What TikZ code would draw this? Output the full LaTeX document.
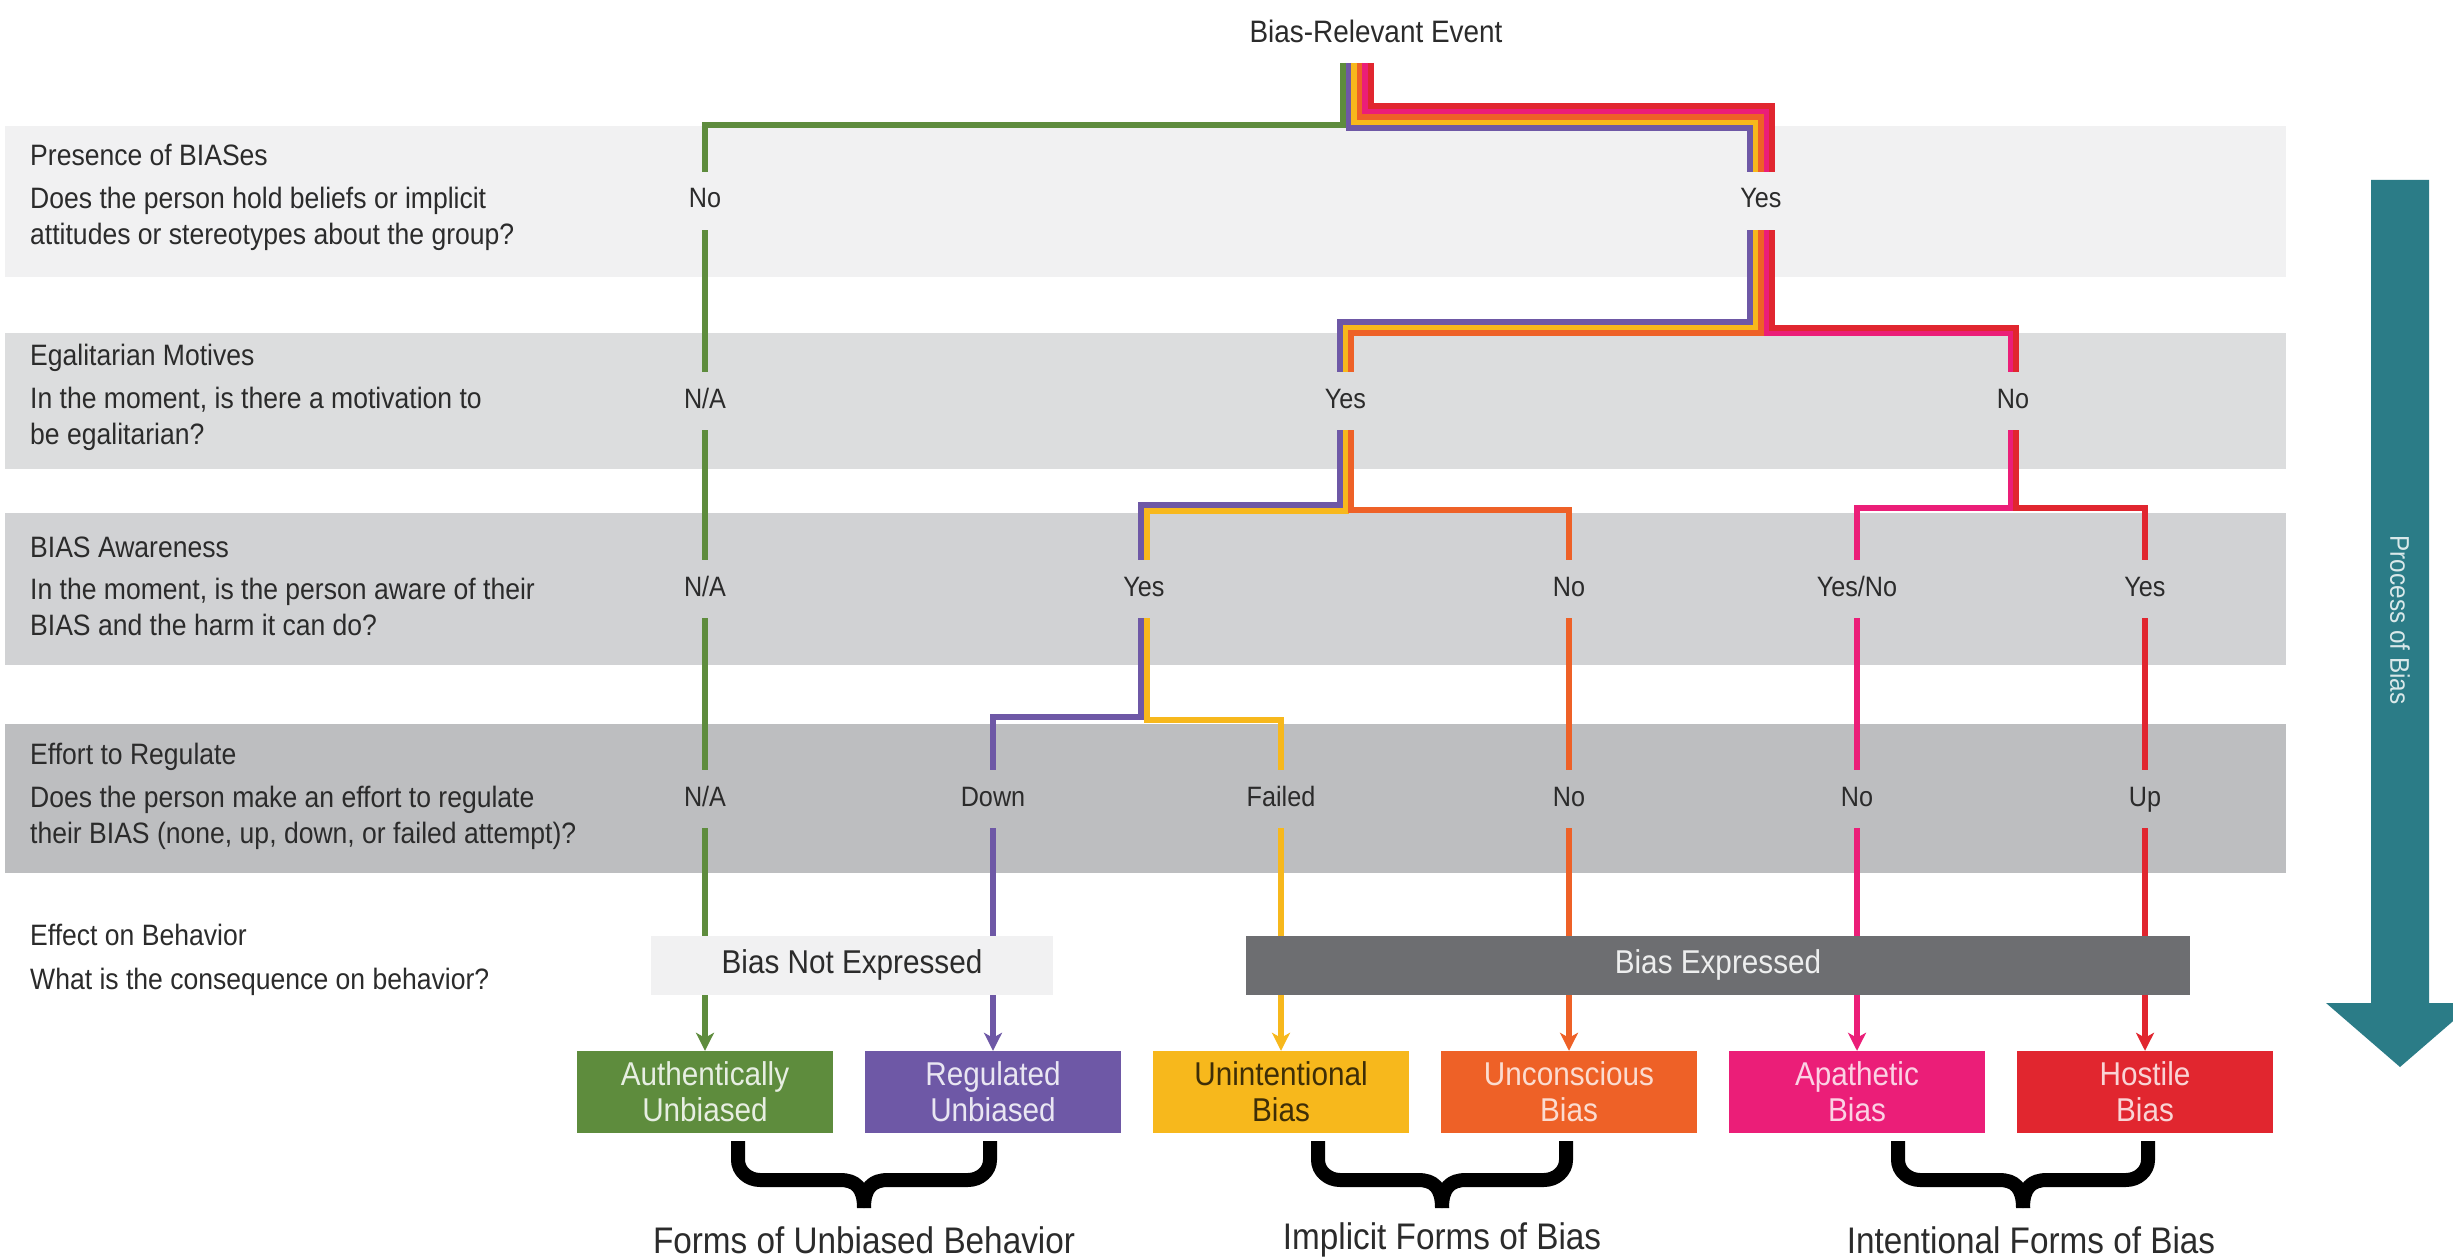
\documentclass[tikz,border=0pt]{standalone}
\usepackage{fontspec}
\setmainfont{Liberation Sans}[FakeStretch=0.9]
\usetikzlibrary{arrows.meta,calc}

\definecolor{cGreen}{HTML}{5E8C3D}
\definecolor{cPurple}{HTML}{6E58A6}
\definecolor{cYellow}{HTML}{F7B81C}
\definecolor{cOrange}{HTML}{EE6127}
\definecolor{cPink}{HTML}{EB1E78}
\definecolor{cRed}{HTML}{E1262F}
\definecolor{bandA}{HTML}{F1F1F2}
\definecolor{bandB}{HTML}{DCDDDE}
\definecolor{bandC}{HTML}{D1D2D4}
\definecolor{bandD}{HTML}{BDBEC0}
\definecolor{ink}{HTML}{2B2B2B}
\definecolor{expGray}{HTML}{6D6E71}
\definecolor{procTeal}{HTML}{2B7C87}

\newcommand\rowfont{\fontsize{29.5}{36}\selectfont}
\newcommand\ansfont{\fontsize{28}{32}\selectfont}
\newcommand\boxfont{\fontsize{33}{36}\selectfont}
\newcommand\capfont{\fontsize{37}{42}\selectfont}

\tikzset{
  rowtext/.style={anchor=west, inner sep=0pt, text=ink, font=\rowfont, align=left},
  ans/.style={text=ink, font=\ansfont, text height=20pt, text depth=6pt,
    minimum height=58pt, inner xsep=5pt, inner ysep=0pt},
  flow/.style={line width=6pt, line cap=butt, line join=miter},
  tipped/.style={-{Stealth[length=18pt,width=18pt,inset=5pt]}},
  outcome/.style={minimum width=256pt, minimum height=82pt, inner sep=0pt, align=center, font=\boxfont},
  effect/.style={minimum height=59pt, inner sep=0pt, font=\boxfont, text height=23pt, text depth=7pt},
  brace/.style={line width=14pt, line cap=butt, line join=round, black},
}

% one curly brace under a pair of outcome boxes: left end, tip, right end
\newcommand\curlybrace[3]{%
  \draw[brace] (#1,1141) -- (#1,1160) .. controls (#1,1171) and (#1+10,1180) .. (#1+22,1180)
    -- (#2-24,1180) .. controls (#2-8,1180) and (#2,1188) .. (#2,1208);
  \draw[brace] (#3,1141) -- (#3,1160) .. controls (#3,1171) and (#3-10,1180) .. (#3-22,1180)
    -- (#2+24,1180) .. controls (#2+8,1180) and (#2,1188) .. (#2,1208);}

\begin{document}
\begin{tikzpicture}[x=1pt,y=-1pt]
\useasboundingbox (0,0) rectangle (2453,1260);
\clip (0,0) rectangle (2453,1260);
\fill[white] (0,0) rectangle (2453,1260);

% question bands
\fill[bandA] (5,126) rectangle (2286,277);
\fill[bandB] (5,333) rectangle (2286,469);
\fill[bandC] (5,513) rectangle (2286,665);
\fill[bandD] (5,724) rectangle (2286,873);

% question texts
\node[rowtext] (t1) at (30,155) {Presence of BIASes};
\node[rowtext] (q1) at (30,219) {Does the person hold beliefs or implicit\\attitudes or stereotypes about the group?};
\node[rowtext] (t2) at (30,358) {Egalitarian Motives};
\node[rowtext] (q2) at (30,419) {In the moment, is there a motivation to\\be egalitarian?};
\node[rowtext] (t3) at (30,547) {BIAS Awareness};
\node[rowtext] (q3) at (30,607) {In the moment, is the person aware of their\\BIAS and the harm it can do?};
\node[rowtext] (t4) at (30,757) {Effort to Regulate};
\node[rowtext] (q4) at (30,818) {Does the person make an effort to regulate\\their BIAS (none, up, down, or failed attempt)?};
\node[rowtext] (t5) at (30,935) {Effect on Behavior};
\node[rowtext] (q5) at (30,982) {What is the consequence on behavior?};

% start event
\node[text=ink, font=\fontsize{31}{36}\selectfont, inner sep=0pt] (evt) at (1376,31) {Bias-Relevant Event};
\coordinate (src) at (1357,63);

% outcome boxes
\node[outcome, fill=cGreen,  text=white!85!cGreen]   (bAuth) at (705,1092)  {Authentically\\Unbiased};
\node[outcome, fill=cPurple, text=white!85!cPurple]  (bReg)  at (993,1092)  {Regulated\\Unbiased};
\node[outcome, fill=cYellow, text=black!75!cYellow]  (bUni)  at (1281,1092) {Unintentional\\Bias};
\node[outcome, fill=cOrange, text=white!78!cOrange]  (bUnc)  at (1569,1092) {Unconscious\\Bias};
\node[outcome, fill=cPink,   text=white!80!cPink]    (bApa)  at (1857,1092) {Apathetic\\Bias};
\node[outcome, fill=cRed,    text=white!80!cRed]     (bHos)  at (2145,1092) {Hostile\\Bias};

% decision paths, one per outcome, running side by side in bundles
\draw[flow, tipped, cGreen]  ([xshift=-14pt]src) |- (705,125) -- (bAuth.north);
\draw[flow, tipped, cPurple] ([xshift=-8.5pt]src) |- (1750,128) |- (1340,322) |- (1141,505) |- (993,717) -- (bReg.north);
\draw[flow, tipped, cYellow] ([xshift=-3pt]src) |- (1755.5,122.5) |- (1345.5,327.5) |- (1146.5,510.5) |- (1281,720) -- (bUni.north);
\draw[flow, tipped, cOrange] ([xshift=2.5pt]src) |- (1761,117) |- (1351,333) |- (1569,510) -- (bUnc.north);
\draw[flow, tipped, cPink]   ([xshift=8pt]src) |- (1766.5,111.5) |- (2010.5,333) |- (1857,508) -- (bApa.north);
\draw[flow, tipped, cRed]    ([xshift=13.5pt]src) |- (1772,106) |- (2016,327.5) |- (2145,508) -- (bHos.north);

% answers on the paths
\node[ans, fill=bandA] (a1n) at (705,201) {No};
\node[ans, fill=bandA] (a1y) at (1761,201) {Yes};
\node[ans, fill=bandB] (a2a) at (705,401) {N/A};
\node[ans, fill=bandB] (a2y) at (1345.5,401) {Yes};
\node[ans, fill=bandB] (a2n) at (2013,401) {No};
\node[ans, fill=bandC] (a3a) at (705,589) {N/A};
\node[ans, fill=bandC] (a3y) at (1144,589) {Yes};
\node[ans, fill=bandC] (a3n) at (1569,589) {No};
\node[ans, fill=bandC] (a3b) at (1857,589) {Yes/No};
\node[ans, fill=bandC] (a3h) at (2145,589) {Yes};
\node[ans, fill=bandD] (a4a) at (705,799) {N/A};
\node[ans, fill=bandD] (a4d) at (993,799) {Down};
\node[ans, fill=bandD] (a4f) at (1281,799) {Failed};
\node[ans, fill=bandD] (a4n) at (1569,799) {No};
\node[ans, fill=bandD] (a4m) at (1857,799) {No};
\node[ans, fill=bandD] (a4u) at (2145,799) {Up};

% effect on behavior
\node[effect, fill=bandA, text=ink, minimum width=402pt] (notexp) at (852,965) {Bias Not Expressed};
\node[effect, fill=expGray, text=white!88!expGray, minimum width=944pt] (exp) at (1718,965) {Bias Expressed};

% grouping braces and their captions
\curlybrace{738}{864}{990}
\curlybrace{1318}{1442}{1566}
\curlybrace{1898}{2023}{2148}
\node[text=ink, font=\capfont, inner sep=0pt] (g1) at (864,1240) {Forms of Unbiased Behavior};
\node[text=ink, font=\capfont, inner sep=0pt] (g2) at (1442,1240) {Implicit Forms of Bias};
\node[text=ink, font=\capfont, inner sep=0pt] (g3) at (2031,1240) {Intentional Forms of Bias};

% process arrow
\fill[procTeal] (2371,180) -- (2429,180) -- (2429,1003) -- (2474,1003) -- (2400,1067)
  -- (2326,1003) -- (2371,1003) -- cycle;
\node[rotate=-90, text=white!82!procTeal, font=\fontsize{27}{30}\selectfont, inner sep=0pt] (proc) at (2400,620) {Process of Bias};
\end{tikzpicture}
\end{document}
